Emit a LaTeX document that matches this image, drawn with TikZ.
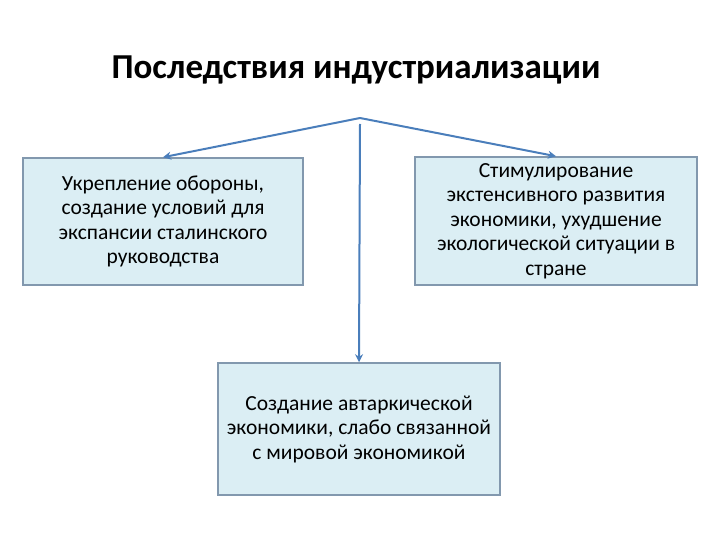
\documentclass[tikz,border=0pt]{standalone}
\usepackage{fontspec}
\setmainfont{Carlito}
\usetikzlibrary{arrows.meta}
\definecolor{boxfill}{HTML}{DBEEF4}
\definecolor{boxdraw}{HTML}{8298AE}
\definecolor{linec}{HTML}{4A7EBB}
\begin{document}
\begin{tikzpicture}[x=1pt,y=-1pt,
  box/.style={draw=boxdraw, line width=1.5pt, fill=boxfill, inner sep=4pt, align=center, font=\fontsize{21.5}{24.5}\selectfont},
  con/.style={draw=linec, line width=2pt, -{Stealth[length=8pt,width=8pt]}}]
\useasboundingbox (0,0) rectangle (720,540);
\node[font=\fontsize{35}{40}\selectfont\bfseries] (title) at (356,70) {Последствия индустриализации};
\node[box, minimum width=280pt, minimum height=127pt] (L) at (163,221.5) {Укрепление обороны,\\создание условий для\\экспансии сталинского\\руководства};
\node[box, minimum width=282pt, minimum height=128pt] (R) at (556,221) {Стимулирование\\экстенсивного развития\\экономики, ухудшение\\экологической ситуации в\\стране};
\node[box, minimum width=282pt, minimum height=132pt] (B) at (359,429) {Создание автаркической\\экономики, слабо связанной\\с мировой экономикой};
\coordinate (apex) at (360,118);
\coordinate (vtop) at (360,124);
\draw[con] (apex) -- (L.north);
\draw[con] (apex) -- (R.north);
\draw[con] (vtop) -- (B.north);
\end{tikzpicture}
\end{document}
